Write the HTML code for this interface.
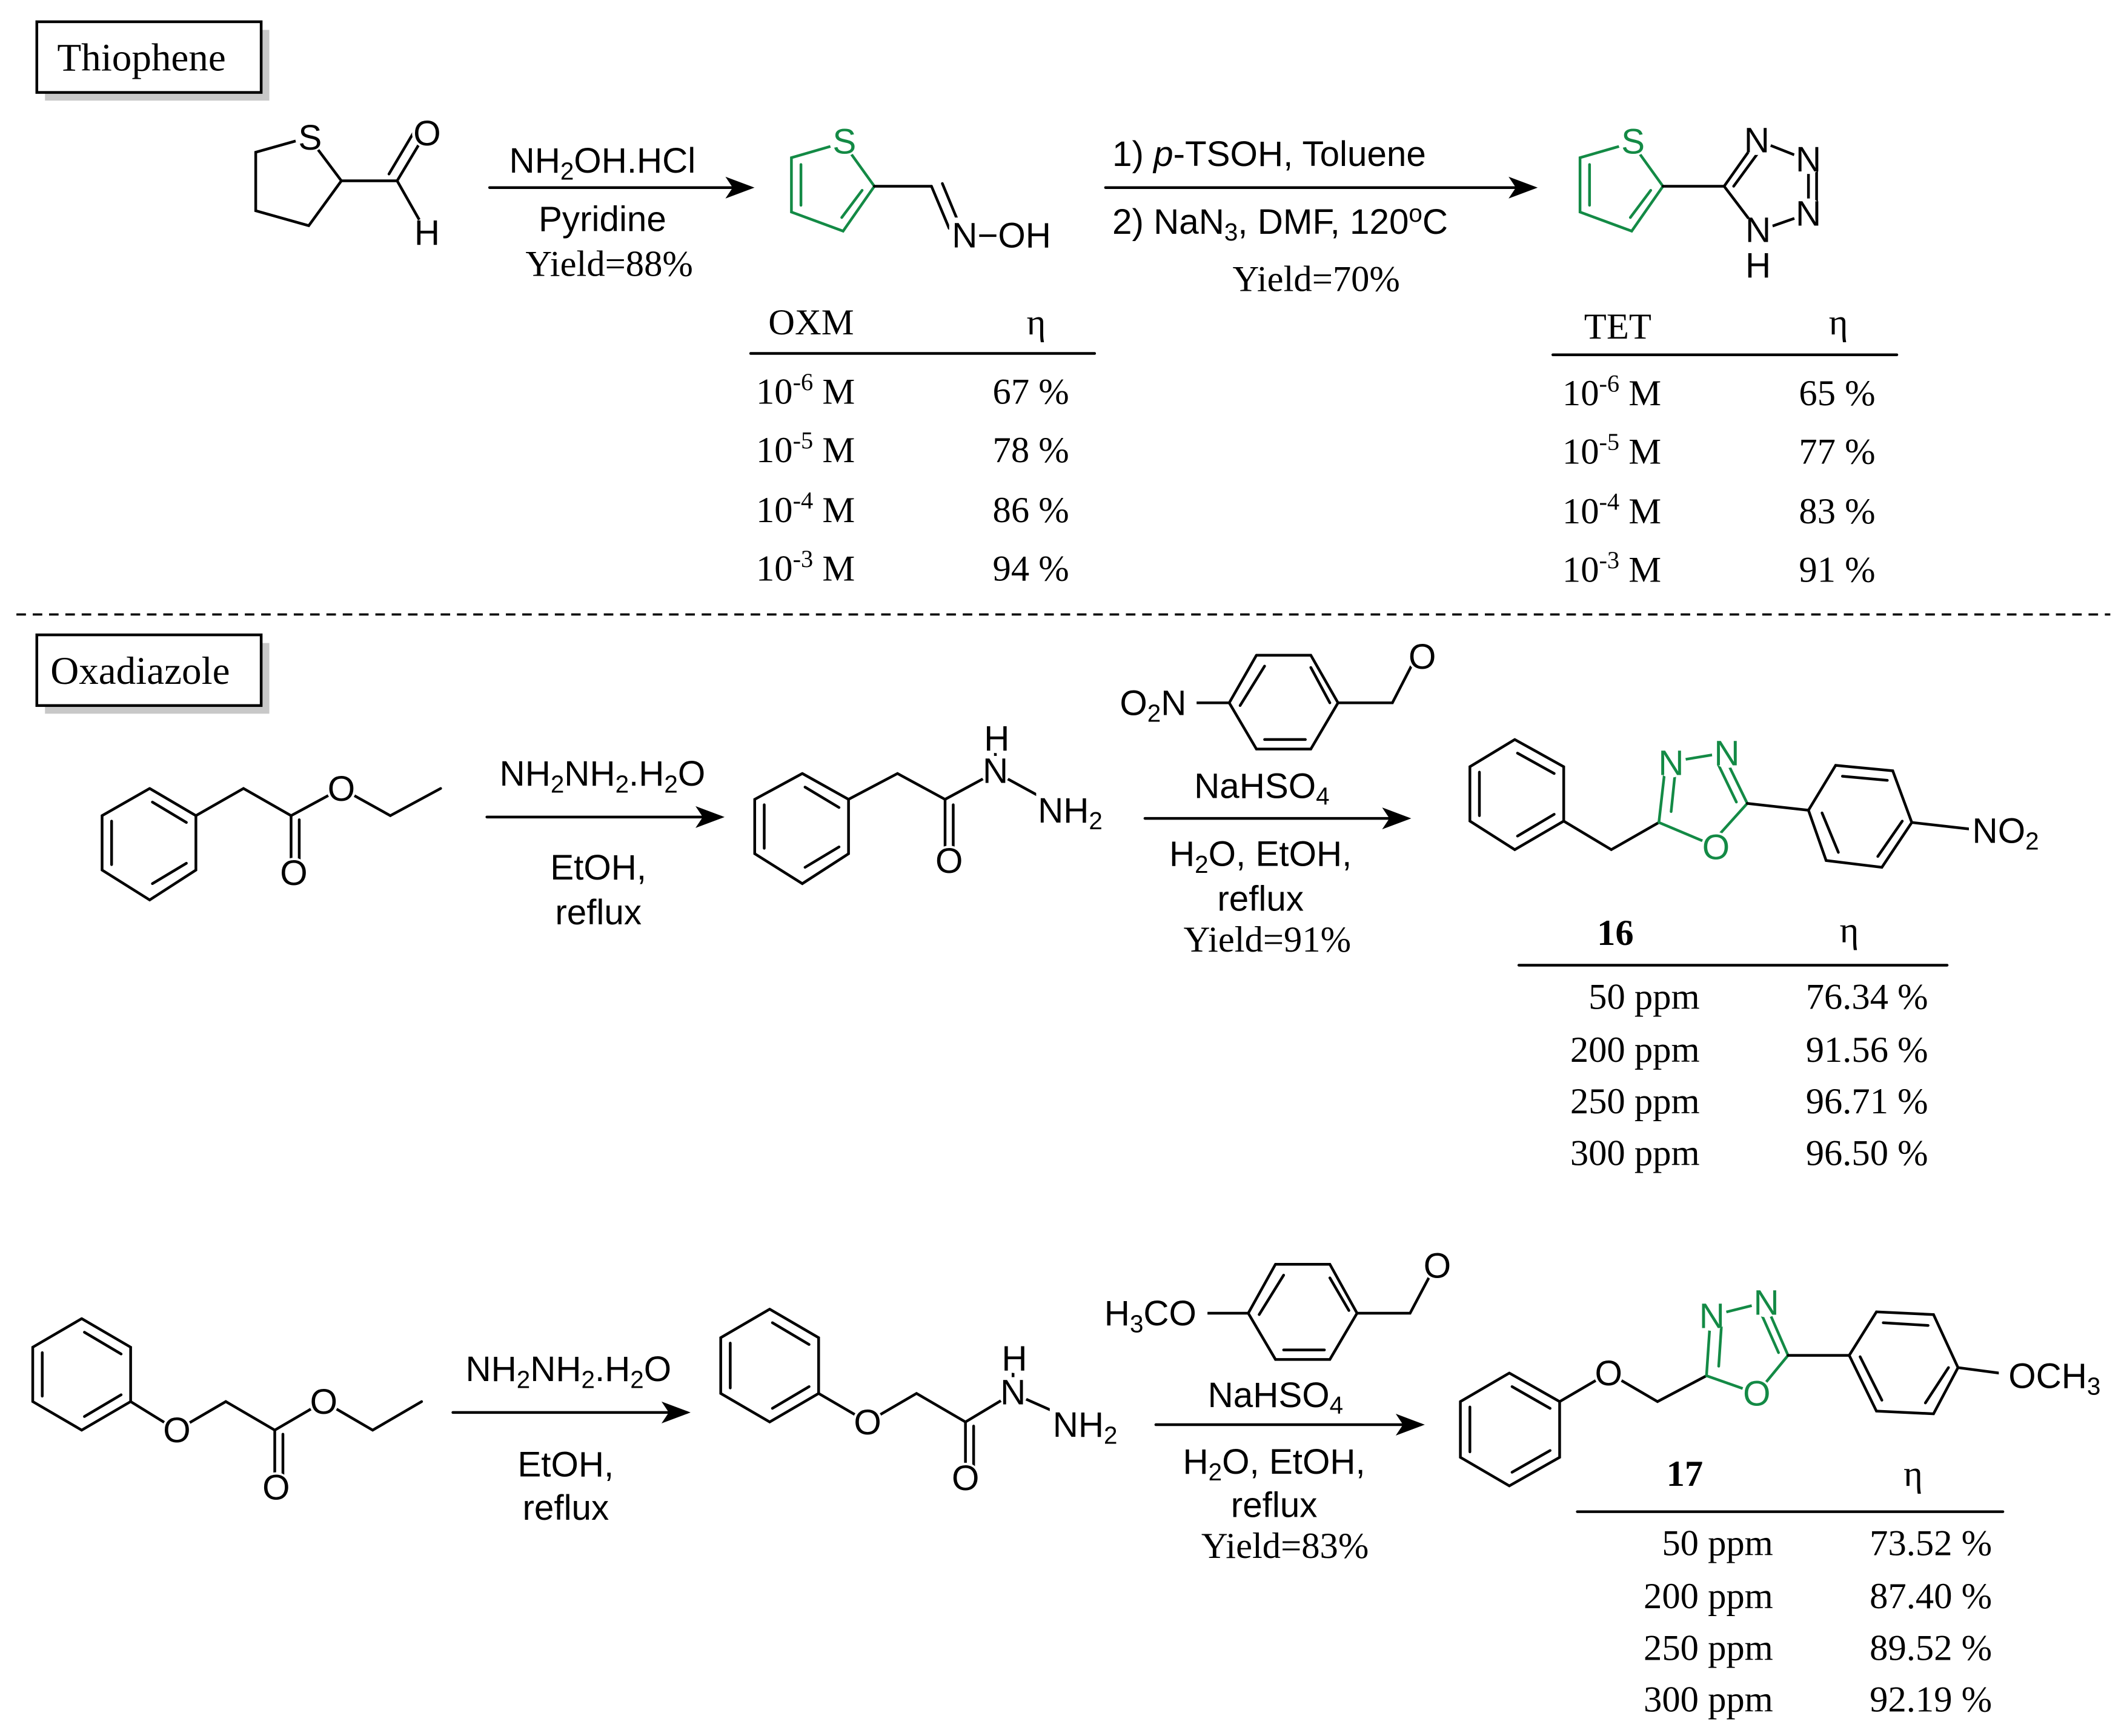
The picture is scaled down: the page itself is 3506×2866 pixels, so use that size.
<!DOCTYPE html>
<html><head><meta charset="utf-8"><style>
html,body{margin:0;padding:0;background:#fff}
svg{display:block}
.s{font-family:"Liberation Sans",sans-serif;font-size:26px}
.r{font-family:"Liberation Serif",serif;font-size:27px}
.a{font-family:"Liberation Sans",sans-serif;font-size:26px;text-anchor:middle}
.b{font-family:"Liberation Serif",serif;font-size:29px}
</style></head><body>
<svg width="3506" height="2866" viewBox="0 0 1562 1277" xmlns="http://www.w3.org/2000/svg">
<g stroke="#000" stroke-width="2" fill="none" stroke-linecap="round">
<rect x="33" y="22" width="165" height="52" fill="#c8c8c8" stroke="none"/>
<rect x="27" y="16" width="165" height="52" fill="#fff"/>
<rect x="33" y="473" width="165" height="52" fill="#c8c8c8" stroke="none"/>
<rect x="27" y="467" width="165" height="52" fill="#fff"/>
<line x1="12" y1="452" x2="1552" y2="452" stroke-dasharray="7,5" stroke-width="1.6" stroke-linecap="butt"/>
<line x1="360" y1="138" x2="552" y2="138"/><polygon points="552,138 536,132 540,138 536,144" fill="#000"/>
<line x1="813" y1="138" x2="1128" y2="138"/><polygon points="1128,138 1112,132 1116,138 1112,144" fill="#000"/>
<line x1="358" y1="601" x2="530" y2="601"/><polygon points="530,601 514,595 518,601 514,607" fill="#000"/>
<line x1="842" y1="602" x2="1035" y2="602"/><polygon points="1035,602 1019,596 1023,602 1019,608" fill="#000"/>
<line x1="333" y1="1039" x2="505" y2="1039"/><polygon points="505,1039 489,1033 493,1039 489,1045" fill="#000"/>
<line x1="850" y1="1048" x2="1045" y2="1048"/><polygon points="1045,1048 1029,1042 1033,1048 1029,1054" fill="#000"/>
<line x1="552" y1="260" x2="805" y2="260"/>
<line x1="1142" y1="261" x2="1395" y2="261"/>
<line x1="1117" y1="710" x2="1432" y2="710"/>
<line x1="1160" y1="1112" x2="1473" y2="1112"/>
<polyline points="227,101 188,112 188,155 227,166 251,133 227,101"/>
<line x1="251" y1="133" x2="292" y2="133"/>
<line x1="292" y1="133" x2="313" y2="98"/><line x1="286" y1="128" x2="305" y2="96"/>
<line x1="292" y1="133" x2="313" y2="170"/>
<g stroke="#138a45">
<polyline points="620,105 582,116 582,156 620,170 643,137 620,105"/>
<line x1="589" y1="121" x2="589" y2="151"/><line x1="619" y1="160" x2="634" y2="140"/>
</g>
<line x1="643" y1="137" x2="685" y2="137"/>
<line x1="685" y1="137" x2="698" y2="168"/><line x1="693" y1="135" x2="705" y2="164"/>
<g stroke="#138a45">
<polyline points="1200,105 1162,116 1162,156 1200,170 1223,137 1200,105"/>
<line x1="1169" y1="121" x2="1169" y2="151"/><line x1="1199" y1="160" x2="1214" y2="140"/>
</g>
<line x1="1223" y1="137" x2="1268" y2="137"/>
<polyline points="1268,137 1292,103 1330,118 1330,157 1293,170 1268,137"/>
<line x1="1275" y1="137" x2="1294" y2="111"/><line x1="1336" y1="120" x2="1336" y2="155"/>
<polyline points="110,580 144,600 144,640 110,662 75,640 75,600 110,580"/>
<line x1="112" y1="590" x2="137" y2="605"/><line x1="137" y1="635" x2="112" y2="650"/><line x1="82" y1="604" x2="82" y2="636"/>
<polyline points="144,600 179,580 214,600 251,580 287,600 324,580"/>
<line x1="214" y1="600" x2="214" y2="642"/><line x1="220" y1="603" x2="220" y2="635"/>
<polyline points="590,569 624,588 624,628 590,650 555,628 555,588 590,569"/>
<line x1="592" y1="579" x2="617" y2="594"/><line x1="617" y1="623" x2="592" y2="638"/><line x1="562" y1="592" x2="562" y2="624"/>
<polyline points="624,588 660,569 695,588 732,568 785,597"/>
<line x1="695" y1="588" x2="695" y2="633"/><line x1="701" y1="592" x2="701" y2="625"/>
<line x1="732" y1="568" x2="732" y2="543"/>
<polyline points="924,482 964,482 984,517 964,551 924,551 904,517 924,482"/>
<line x1="930" y1="490" x2="912" y2="519"/><line x1="930" y1="544" x2="960" y2="544"/><line x1="964" y1="491" x2="978" y2="517"/>
<line x1="904" y1="517" x2="880" y2="517"/>
<polyline points="984,517 1024,517 1041,484"/>
<polyline points="1114,544 1150,564 1150,604 1114,625 1081,604 1081,564 1114,544"/>
<line x1="1116" y1="554" x2="1143" y2="569"/><line x1="1088" y1="568" x2="1088" y2="600"/><line x1="1143" y1="599" x2="1116" y2="615"/>
<polyline points="1150,604 1185,625 1220,605"/>
<g stroke="#138a45">
<polyline points="1220,605 1225,561 1267,554 1285,591 1258,621 1220,605"/>
<line x1="1229" y1="597" x2="1232" y2="568"/><line x1="1264" y1="563" x2="1277" y2="590"/>
</g>
<line x1="1285" y1="591" x2="1330" y2="596"/>
<polyline points="1330,596 1350,563 1392,567 1406,605 1384,638 1343,633 1330,596"/>
<line x1="1355" y1="571" x2="1388" y2="574"/><line x1="1399" y1="604" x2="1381" y2="630"/><line x1="1340" y1="598" x2="1352" y2="627"/>
<line x1="1406" y1="605" x2="1450" y2="610"/>
<polyline points="60,970 96,991 96,1031 60,1052 24,1031 24,991 60,970"/>
<line x1="62" y1="980" x2="89" y2="996"/><line x1="31" y1="995" x2="31" y2="1027"/><line x1="89" y1="1026" x2="62" y2="1042"/>
<polyline points="96,1031 130,1052 166,1031 202,1052 238,1031 274,1052 310,1031"/>
<line x1="202" y1="1052" x2="202" y2="1094"/><line x1="208" y1="1055" x2="208" y2="1087"/>
<polyline points="566,963 602,984 602,1025 566,1046 530,1025 530,984 566,963"/>
<line x1="568" y1="973" x2="595" y2="989"/><line x1="537" y1="988" x2="537" y2="1021"/><line x1="595" y1="1020" x2="568" y2="1036"/>
<polyline points="602,1025 638,1046 674,1025 710,1046 745,1025 797,1048"/>
<line x1="710" y1="1046" x2="710" y2="1087"/><line x1="716" y1="1049" x2="716" y2="1080"/>
<line x1="745" y1="1025" x2="745" y2="1000"/>
<polyline points="938,930 978,930 998,966 978,1000 938,1000 918,966 938,930"/>
<line x1="944" y1="938" x2="926" y2="967"/><line x1="944" y1="993" x2="974" y2="993"/><line x1="978" y1="940" x2="992" y2="964"/>
<line x1="918" y1="966" x2="888" y2="966"/>
<polyline points="998,966 1037,966 1055,932"/>
<polyline points="1110,1010 1147,1031 1147,1072 1110,1093 1074,1072 1074,1031 1110,1010"/>
<line x1="1112" y1="1020" x2="1140" y2="1036"/><line x1="1081" y1="1035" x2="1081" y2="1068"/><line x1="1140" y1="1067" x2="1112" y2="1083"/>
<polyline points="1147,1031 1183,1010 1219,1031 1255,1012"/>
<g stroke="#138a45">
<polyline points="1255,1012 1258,968 1298,958 1315,997 1292,1025 1255,1012"/>
<line x1="1264" y1="1005" x2="1266" y2="975"/><line x1="1296" y1="968" x2="1308" y2="995"/>
</g>
<line x1="1315" y1="997" x2="1360" y2="997"/>
<polyline points="1360,997 1380,965 1422,967 1440,1006 1422,1040 1380,1038 1360,997"/>
<line x1="1385" y1="973" x2="1418" y2="975"/><line x1="1433" y1="1006" x2="1416" y2="1032"/><line x1="1368" y1="998" x2="1384" y2="1030"/>
<line x1="1440" y1="1006" x2="1470" y2="1010"/>
</g>

<!-- white masks behind atom labels -->
<g fill="#fff">
<circle cx="228" cy="101" r="11"/><circle cx="314" cy="98" r="11"/><circle cx="314" cy="171" r="11"/>
<circle cx="621" cy="104" r="11"/><rect x="698" y="160" width="84" height="26"/>
<circle cx="1201" cy="104" r="11"/><circle cx="1292" cy="103" r="11"/><circle cx="1330" cy="117" r="11"/><circle cx="1330" cy="157" r="11"/><circle cx="1293" cy="169" r="11"/><circle cx="1293" cy="195" r="11"/>
<circle cx="251" cy="580" r="11"/><circle cx="216" cy="642" r="11"/><circle cx="732" cy="567" r="11"/><circle cx="733" cy="543" r="11"/><rect x="762" y="582" width="52" height="30"/><circle cx="698" cy="633" r="11"/>
<rect x="818" y="502" width="62" height="30"/><circle cx="1046" cy="483" r="11"/>
<circle cx="1229" cy="561" r="11"/><circle cx="1270" cy="554" r="11"/><circle cx="1262" cy="623" r="11"/><rect x="1448" y="596" width="58" height="30"/>
<circle cx="130" cy="1052" r="11"/><circle cx="238" cy="1031" r="11"/><circle cx="203" cy="1094" r="11"/><circle cx="638" cy="1046" r="11"/><circle cx="745" cy="1024" r="11"/><circle cx="746" cy="999" r="11"/><rect x="772" y="1034" width="52" height="30"/><circle cx="710" cy="1087" r="11"/>
<rect x="806" y="952" width="82" height="30"/><circle cx="1057" cy="931" r="11"/>
<circle cx="1183" cy="1010" r="11"/><circle cx="1259" cy="968" r="11"/><circle cx="1299" cy="958" r="11"/><circle cx="1292" cy="1025" r="11"/><rect x="1470" y="996" width="82" height="30"/>
</g>

<text x="42" y="52" class="b">Thiophene</text>
<text x="37" y="503" class="b">Oxadiazole</text>

<text x="228" y="110" class="a">S</text>
<text x="314" y="107" class="a">O</text>
<text x="314" y="180" class="a">H</text>
<text x="621" y="113" class="a" fill="#138a45">S</text>
<text x="700" y="182" class="s">N−OH</text>
<text x="1201" y="113" class="a" fill="#138a45">S</text>
<text x="1292" y="112" class="a">N</text>
<text x="1330" y="126" class="a">N</text>
<text x="1330" y="166" class="a">N</text>
<text x="1293" y="178" class="a">N</text>
<text x="1293" y="204" class="a">H</text>

<text x="251" y="589" class="a">O</text>
<text x="216" y="651" class="a">O</text>
<text x="732" y="576" class="a">N</text>
<text x="733" y="552" class="a">H</text>
<text x="787" y="605" class="a">NH<tspan font-size="18" dy="5">2</tspan></text>
<text x="698" y="642" class="a">O</text>
<text x="848" y="526" class="a">O<tspan font-size="18" dy="5">2</tspan><tspan dy="-5">N</tspan></text>
<text x="1046" y="492" class="a">O</text>
<text x="1229" y="570" class="a" fill="#138a45">N</text>
<text x="1270" y="563" class="a" fill="#138a45">N</text>
<text x="1262" y="632" class="a" fill="#138a45">O</text>
<text x="1475" y="620" class="a">NO<tspan font-size="18" dy="5">2</tspan></text>

<text x="130" y="1061" class="a">O</text>
<text x="238" y="1040" class="a">O</text>
<text x="203" y="1103" class="a">O</text>
<text x="638" y="1055" class="a">O</text>
<text x="745" y="1033" class="a">N</text>
<text x="746" y="1008" class="a">H</text>
<text x="798" y="1057" class="a">NH<tspan font-size="18" dy="5">2</tspan></text>
<text x="710" y="1096" class="a">O</text>
<text x="846" y="975" class="a">H<tspan font-size="18" dy="5">3</tspan><tspan dy="-5">CO</tspan></text>
<text x="1057" y="940" class="a">O</text>
<text x="1183" y="1019" class="a">O</text>
<text x="1259" y="977" class="a" fill="#138a45">N</text>
<text x="1299" y="967" class="a" fill="#138a45">N</text>
<text x="1292" y="1034" class="a" fill="#138a45">O</text>
<text x="1511" y="1021" class="a">OCH<tspan font-size="18" dy="5">3</tspan></text>

<g class="s" text-anchor="middle">
<text x="443" y="127">NH<tspan font-size="18" dy="5">2</tspan><tspan dy="-5">OH.HCl</tspan></text>
<text x="443" y="170">Pyridine</text>
<text x="818" y="122" text-anchor="start">1) <tspan font-style="italic">p</tspan>-TSOH, Toluene</text>
<text x="818" y="172" text-anchor="start">2) NaN<tspan font-size="18" dy="5">3</tspan><tspan dy="-5">, DMF, 120</tspan><tspan font-size="18" dy="-9">o</tspan><tspan dy="9">C</tspan></text>
<text x="443" y="578">NH<tspan font-size="18" dy="5">2</tspan><tspan dy="-5">NH</tspan><tspan font-size="18" dy="5">2</tspan><tspan dy="-5">.H</tspan><tspan font-size="18" dy="5">2</tspan><tspan dy="-5">O</tspan></text>
<text x="440" y="647">EtOH,</text>
<text x="440" y="680">reflux</text>
<text x="928" y="587">NaHSO<tspan font-size="18" dy="5">4</tspan></text>
<text x="927" y="637">H<tspan font-size="18" dy="5">2</tspan><tspan dy="-5">O, EtOH,</tspan></text>
<text x="927" y="670">reflux</text>
<text x="418" y="1016">NH<tspan font-size="18" dy="5">2</tspan><tspan dy="-5">NH</tspan><tspan font-size="18" dy="5">2</tspan><tspan dy="-5">.H</tspan><tspan font-size="18" dy="5">2</tspan><tspan dy="-5">O</tspan></text>
<text x="416" y="1086">EtOH,</text>
<text x="416" y="1118">reflux</text>
<text x="938" y="1035">NaHSO<tspan font-size="18" dy="5">4</tspan></text>
<text x="937" y="1084">H<tspan font-size="18" dy="5">2</tspan><tspan dy="-5">O, EtOH,</tspan></text>
<text x="937" y="1116">reflux</text>
</g>
<g class="r" text-anchor="middle">
<text x="448" y="203">Yield=88%</text>
<text x="968" y="214">Yield=70%</text>
<text x="932" y="700">Yield=91%</text>
<text x="945" y="1146">Yield=83%</text>
</g>

<g class="r">
<text x="565" y="246">OXM</text><text x="755" y="246">η</text>
<text x="556" y="297">10<tspan font-size="18" dy="-10">-6</tspan><tspan dy="10"> M</tspan></text><text x="730" y="297">67 %</text>
<text x="556" y="340">10<tspan font-size="18" dy="-10">-5</tspan><tspan dy="10"> M</tspan></text><text x="730" y="340">78 %</text>
<text x="556" y="384">10<tspan font-size="18" dy="-10">-4</tspan><tspan dy="10"> M</tspan></text><text x="730" y="384">86 %</text>
<text x="556" y="427">10<tspan font-size="18" dy="-10">-3</tspan><tspan dy="10"> M</tspan></text><text x="730" y="427">94 %</text>

<text x="1165" y="249">TET</text><text x="1345" y="246">η</text>
<text x="1149" y="298">10<tspan font-size="18" dy="-10">-6</tspan><tspan dy="10"> M</tspan></text><text x="1323" y="298">65 %</text>
<text x="1149" y="341">10<tspan font-size="18" dy="-10">-5</tspan><tspan dy="10"> M</tspan></text><text x="1323" y="341">77 %</text>
<text x="1149" y="385">10<tspan font-size="18" dy="-10">-4</tspan><tspan dy="10"> M</tspan></text><text x="1323" y="385">83 %</text>
<text x="1149" y="428">10<tspan font-size="18" dy="-10">-3</tspan><tspan dy="10"> M</tspan></text><text x="1323" y="428">91 %</text>

<text x="1188" y="695" font-weight="bold" text-anchor="middle">16</text><text x="1360" y="693" text-anchor="middle">η</text>
<g text-anchor="end">
<text x="1250" y="742">50 ppm</text><text x="1418" y="742">76.34 %</text>
<text x="1250" y="781">200 ppm</text><text x="1418" y="781">91.56 %</text>
<text x="1250" y="819">250 ppm</text><text x="1418" y="819">96.71 %</text>
<text x="1250" y="857">300 ppm</text><text x="1418" y="857">96.50 %</text>
<text x="1304" y="1144">50 ppm</text><text x="1465" y="1144">73.52 %</text>
<text x="1304" y="1183">200 ppm</text><text x="1465" y="1183">87.40 %</text>
<text x="1304" y="1221">250 ppm</text><text x="1465" y="1221">89.52 %</text>
<text x="1304" y="1259">300 ppm</text><text x="1465" y="1259">92.19 %</text>
</g>
<text x="1239" y="1093" font-weight="bold" text-anchor="middle">17</text><text x="1407" y="1093" text-anchor="middle">η</text>
</g>
</svg>
</body></html>
